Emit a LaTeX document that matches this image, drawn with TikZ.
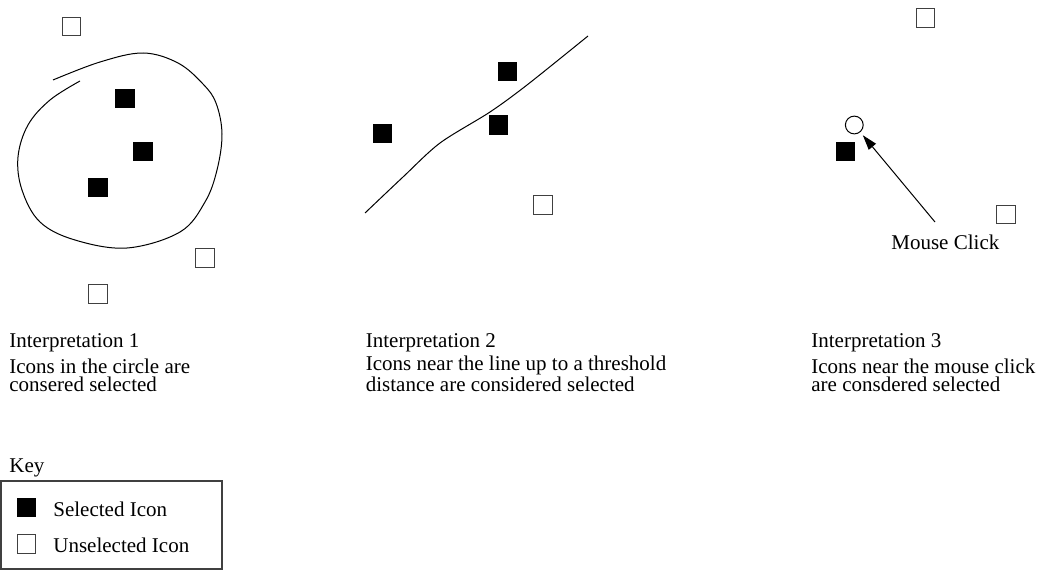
\documentclass[tikz,border=0pt]{standalone}
\usepackage{fontspec}
\setmainfont{Liberation Serif}
\usetikzlibrary{arrows.meta}
\begin{document}
\begin{tikzpicture}[x=0.5pt,y=-0.5pt,
  sel/.style={draw=black,fill=black,line width=0.5pt,minimum size=9.2pt,inner sep=0pt,outer sep=0pt},
  unsel/.style={draw=black!75,fill=white,line width=0.5pt,minimum size=9.2pt,inner sep=0pt,outer sep=0pt},
  lbl/.style={font=\fontsize{10.5}{9.2}\selectfont,inner sep=0pt,align=left,anchor=base west},
  curve/.style={line width=0.5pt,black},
  arr/.style={-{Triangle[length=7.5pt,width=4.6pt]},line width=0.5pt}]
\useasboundingbox (0,0) rectangle (1040,573);
% Panel 1
\node[unsel] (u1a) at (71.5,26.7) {};
\node[sel] (s1a) at (125,98.5) {};
\node[sel] (s1b) at (143,151.5) {};
\node[sel] (s1c) at (98,187.5) {};
\node[unsel] (u1b) at (205,258) {};
\node[unsel] (u1c) at (98,294) {};
\draw[curve] plot[smooth,tension=0.6] coordinates {(53,80) (100,62) (143,53) (178,63) (203,84) (216,103) (222,134) (217,170) (205,202) (180,232) (127,248) (75,240) (40,222) (22,190) (18,157) (28,125) (50,100) (80,81)};
% Panel 2
\node[sel] (s2a) at (507.5,71.5) {};
\node[sel] (s2b) at (382.5,133.5) {};
\node[sel] (s2c) at (498.5,125) {};
\node[unsel] (u2a) at (543,205) {};
\draw[curve] plot[smooth,tension=0.5] coordinates {(365,213) (403,177) (440,143) (490,112) (527,85) (588,36)};
% Panel 3
\node[unsel] (u3a) at (925.5,18) {};
\node[circle,draw=black,line width=0.5pt,minimum size=8.9pt,inner sep=0pt,outer sep=0pt] (click) at (854.3,125) {};
\node[sel] (s3a) at (845.5,151.5) {};
\node[unsel] (u3b) at (1006,214.5) {};
\node[lbl] (mc) at (891,249.5) {Mouse Click};
\coordinate (mcstart) at (935,222);
\draw[arr,shorten >=2.2pt] (mcstart) -- (click);
% Descriptions (base anchor = last line)
\node[lbl] (t1) at (9,347.5) {Interpretation 1};
\node[lbl] (d1) at (9,391.7) {Icons in the circle are\\consered selected};
\node[lbl] (t2) at (365.5,347.5) {Interpretation 2};
\node[lbl] (d2) at (365.5,391.7) {Icons near the line up to a threshold\\distance are considered selected};
\node[lbl] (t3) at (811,347.5) {Interpretation 3};
\node[lbl] (d3) at (811,391.7) {Icons near the mouse click\\are consdered selected};
% Key
\node[lbl] (keyt) at (9,472) {Key};
\draw[draw=black!75,line width=0.6pt] (1,481) rectangle (222,569);
\node[sel] (ks) at (26.5,507.5) {};
\node[lbl] (kst) at (53,516) {Selected Icon};
\node[unsel] (ku) at (26.5,544) {};
\node[lbl] (kut) at (53,552) {Unselected Icon};
\end{tikzpicture}
\end{document}
